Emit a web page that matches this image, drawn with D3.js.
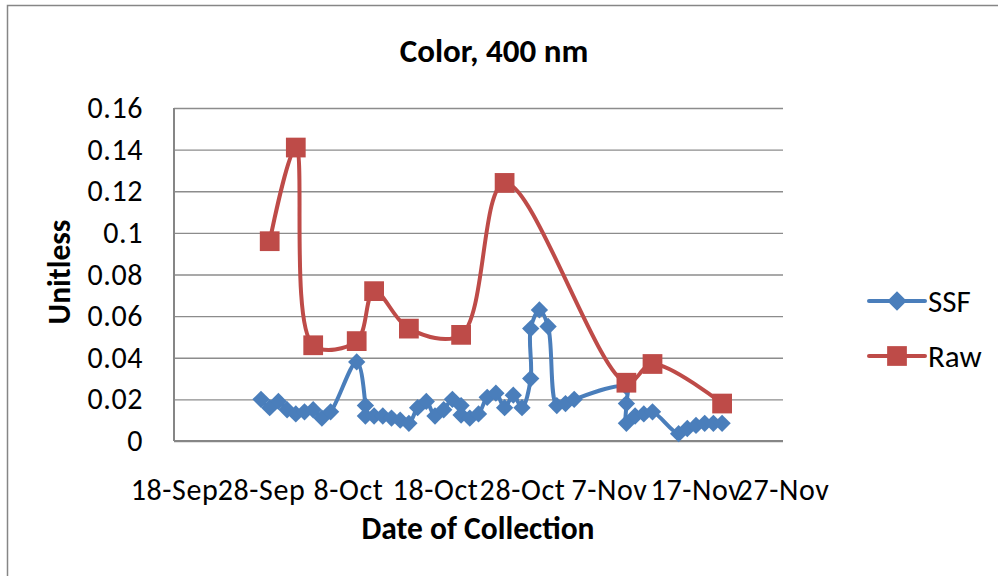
<!DOCTYPE html>
<html>
<head>
<meta charset="utf-8">
<script src="https://cdn.jsdelivr.net/npm/d3@7"></script>
<style>
  body { margin: 0; background: #fff; }
  svg { display: block; font-family: Carlito, Calibri, Lato, sans-serif; }
</style>
</head>
<body>
<svg width="998" height="576"></svg>
<script>
// data
const ssfDates = [
  "2012-09-28", "2012-09-29", "2012-09-30", "2012-10-01", "2012-10-02", "2012-10-03",
  "2012-10-04", "2012-10-05", "2012-10-06", "2012-10-09", "2012-10-10", "2012-10-10",
  "2012-10-11", "2012-10-12", "2012-10-13", "2012-10-14", "2012-10-15", "2012-10-16",
  "2012-10-17", "2012-10-18", "2012-10-19", "2012-10-20", "2012-10-21", "2012-10-21",
  "2012-10-22", "2012-10-23", "2012-10-24", "2012-10-25", "2012-10-26", "2012-10-27",
  "2012-10-28", "2012-10-29", "2012-10-29", "2012-10-30", "2012-10-31", "2012-11-01",
  "2012-11-02", "2012-11-03", "2012-11-09", "2012-11-09", "2012-11-09", "2012-11-10",
  "2012-11-11", "2012-11-12", "2012-11-15", "2012-11-16", "2012-11-17", "2012-11-18",
  "2012-11-19", "2012-11-20"
];
const ssfValues = [
  0.020, 0.016, 0.019, 0.015, 0.013, 0.014,
  0.015, 0.011, 0.014, 0.038, 0.017, 0.012,
  0.012, 0.012, 0.011, 0.010, 0.0085, 0.016,
  0.019, 0.012, 0.015, 0.020, 0.017, 0.0125,
  0.011, 0.013, 0.021, 0.023, 0.016, 0.022,
  0.016, 0.030, 0.054, 0.063, 0.055, 0.017,
  0.018, 0.020, 0.026, 0.018, 0.0085, 0.012,
  0.013, 0.014, 0.0035, 0.006, 0.0075, 0.0085,
  0.0085, 0.0085
];
const rawDates = [
  "2012-09-29", "2012-10-02", "2012-10-04", "2012-10-09", "2012-10-11", "2012-10-15",
  "2012-10-21", "2012-10-26", "2012-11-09", "2012-11-12", "2012-11-20"
];
const rawValues = [0.096, 0.141, 0.046, 0.048, 0.072, 0.054, 0.051, 0.124, 0.028, 0.037, 0.018];

const xTickDates = ["2012-09-18", "2012-09-28", "2012-10-08", "2012-10-18", "2012-10-28", "2012-11-07", "2012-11-17", "2012-11-27"];
const xTickLabels = ["18-Sep", "28-Sep", "8-Oct", "18-Oct", "28-Oct", "7-Nov", "17-Nov", "27-Nov"];
const yTicks = [0, 0.02, 0.04, 0.06, 0.08, 0.1, 0.12, 0.14, 0.16];
const yTickLabels = ["0", "0.02", "0.04", "0.06", "0.08", "0.1", "0.12", "0.14", "0.16"];

const seriesNames = ["SSF", "Raw"];
const seriesColors = ["#4A7EBB", "#BE4B48"];

const parse = d3.utcParse("%Y-%m-%d");
const svg = d3.select("svg");

const plotL = 174, plotR = 783, plotT = 108, plotB = 441;
const x = d3.scaleUtc().domain([parse(xTickDates[0]), parse(xTickDates[xTickDates.length - 1])]).range([plotL, plotR]);
const y = d3.scaleLinear().domain([0, 0.16]).range([plotB, plotT]);

// chart border
svg.append("rect")
  .attr("x", 7.5).attr("y", 5.5).attr("width", 1100).attr("height", 700)
  .attr("fill", "none").attr("stroke", "#868686").attr("stroke-width", 1.5);

// y axis with grid
const yAx = svg.append("g")
  .attr("transform", `translate(${plotL},0)`)
  .call(d3.axisLeft(y).tickValues(yTicks).tickFormat((d, i) => yTickLabels[i])
    .tickSize(-(plotR - plotL)).tickPadding(31));
yAx.select(".domain").remove();
yAx.selectAll("line").attr("stroke", "#8c8c8c").attr("stroke-width", 1.4);
yAx.selectAll("text").attr("font-size", 30).attr("letter-spacing", 0.6).attr("fill", "#000");
yAx.attr("font-family", null).attr("font-size", null);

// x axis
const xAx = svg.append("g")
  .attr("transform", `translate(0,${plotB})`)
  .call(d3.axisBottom(x).tickValues(xTickDates.map(parse)).tickFormat((d, i) => xTickLabels[i])
    .tickSize(0).tickPadding(38));
xAx.select(".domain").remove();
xAx.selectAll("text").attr("font-size", 30).attr("letter-spacing", 0.6).attr("fill", "#000");
xAx.attr("font-family", null).attr("font-size", null);

// axis lines
svg.append("line")
  .attr("x1", plotL).attr("x2", plotL).attr("y1", plotT).attr("y2", plotB)
  .attr("stroke", "#868686").attr("stroke-width", 2);
svg.append("line")
  .attr("x1", plotL).attr("x2", plotR).attr("y1", plotB).attr("y2", plotB)
  .attr("stroke", "#868686").attr("stroke-width", 2);

// series
const ssf = ssfDates.map((d, i) => ({ date: parse(d), value: ssfValues[i] }));
const raw = rawDates.map((d, i) => ({ date: parse(d), value: rawValues[i] }));

const line = d3.line()
  .x(d => x(d.date))
  .y(d => y(d.value))
  .curve(d3.curveCatmullRom.alpha(0.5));

const diamond = d3.symbol(d3.symbolSquare, 150);
const square = d3.symbol(d3.symbolSquare, 390);

svg.append("path").datum(ssf)
  .attr("d", line).attr("fill", "none")
  .attr("stroke", seriesColors[0]).attr("stroke-width", 4).attr("stroke-linejoin", "round");
svg.append("g").selectAll("path").data(ssf).join("path")
  .attr("d", diamond)
  .attr("transform", d => `translate(${x(d.date)},${y(d.value)}) rotate(45)`)
  .attr("fill", seriesColors[0]);

svg.append("path").datum(raw)
  .attr("d", line).attr("fill", "none")
  .attr("stroke", seriesColors[1]).attr("stroke-width", 4).attr("stroke-linejoin", "round");
svg.append("g").selectAll("path").data(raw).join("path")
  .attr("d", square)
  .attr("transform", d => `translate(${x(d.date)},${y(d.value)})`)
  .attr("fill", seriesColors[1]);

// titles
svg.append("text")
  .attr("x", 494).attr("y", 62).attr("text-anchor", "middle")
  .attr("font-size", 33).attr("font-weight", "bold").text("Color, 400 nm");
svg.append("text")
  .attr("x", 478).attr("y", 539).attr("text-anchor", "middle")
  .attr("font-size", 31.5).attr("font-weight", "bold").text("Date of Collection");
svg.append("text")
  .attr("transform", "translate(70,272) rotate(-90)").attr("text-anchor", "middle")
  .attr("font-size", 31.5).attr("font-weight", "bold").text("Unitless");

// legend
const legendY = [301, 356];
const legend = svg.append("g").selectAll("g").data(seriesNames).join("g")
  .attr("transform", (d, i) => `translate(869,${legendY[i]})`);
legend.append("line")
  .attr("x1", 0).attr("x2", 56)
  .attr("stroke", (d, i) => seriesColors[i]).attr("stroke-width", 4).attr("stroke-linecap", "round");
legend.append("path")
  .attr("d", (d, i) => i === 0 ? d3.symbol(d3.symbolSquare, 190)() : d3.symbol(d3.symbolSquare, 390)())
  .attr("transform", (d, i) => i === 0 ? "translate(28,0) rotate(45)" : "translate(28,0)")
  .attr("fill", (d, i) => seriesColors[i]);
legend.append("text")
  .attr("x", 59).attr("y", 11)
  .attr("font-size", 31).text(d => d);
</script>
</body>
</html>
